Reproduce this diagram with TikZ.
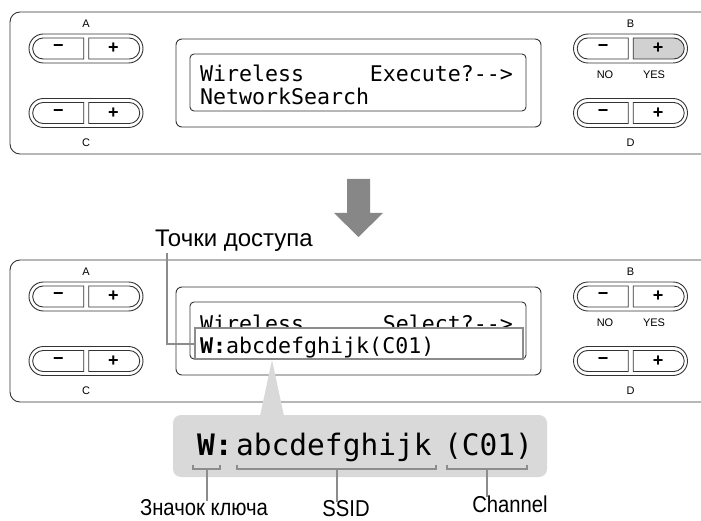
\documentclass[tikz,border=0pt]{standalone}
\usepackage{fontspec}
\setmainfont{Liberation Sans}
\newfontfamily\lcdfam{DejaVu Sans Mono}
\usetikzlibrary{shapes.misc}
\definecolor{lineC}{gray}{0.2}
\definecolor{leadC}{gray}{0.55}
\definecolor{bgC}{gray}{0.85}
\definecolor{arrowC}{gray}{0.53}
\definecolor{plusC}{gray}{0.82}
\newcommand\lcdfont{\lcdfam\fontsize{21.6}{22}\selectfont}
\newcommand\biglcdfont{\lcdfam\fontsize{29.5}{30}\selectfont}
\newcommand\lblfont{\fontsize{23}{23}\selectfont}
\newcommand\calloutfont{\fontsize{24}{24}\selectfont}
\newcommand\smallfont{\fontsize{11}{11}\selectfont}
\newcommand\pmfont{\fontsize{18}{18}\selectfont\bfseries}
\newcommand\mypill[4]{%
  \node[pillout] (#1o) at (#2,#3) {};
  \node[segL] (#1m) at (#2-27.5,#3) {−};
  \node[segR, fill=#4] (#1p) at (#2+27.5,#3) {+};
}
\begin{document}
\begin{tikzpicture}[x=1pt,y=-1pt,
  outl/.style={draw=lineC, line width=0.9pt},
  panel/.style={outl, rounded corners=10pt},
  lcdframe/.style={outl, rounded corners=6pt},
  lcdinner/.style={outl, rounded corners=4pt},
  pillout/.style={outl, rounded rectangle, minimum width=114pt, minimum height=29pt, inner sep=0pt},
  segL/.style={outl, rounded rectangle, rounded rectangle right arc=none, minimum width=51pt, minimum height=21pt, inner sep=0pt, font=\pmfont, fill=white},
  segR/.style={outl, rounded rectangle, rounded rectangle left arc=none, minimum width=51pt, minimum height=21pt, inner sep=0pt, font=\pmfont},
  small/.style={font=\smallfont, inner sep=0pt},
  lcdtxt/.style={font=\lcdfont, inner sep=0pt, anchor=base west},
  bigtxt/.style={font=\biglcdfont, inner sep=0pt, anchor=base west},
  lbl/.style={font=\lblfont, inner sep=0pt, anchor=base},
  leader/.style={draw=leadC, line width=2pt},
  brk/.style={draw=leadC, line width=2pt},
  hlbox/.style={draw=leadC, line width=2pt, fill=white, minimum width=328pt, minimum height=31pt, inner sep=0pt}
]
\useasboundingbox (0,0) rectangle (701,521);
% ---------- top panel ----------
\draw[panel] (702,12) -- (10,12) -- (10,154) -- (702,154);
\mypill{A}{86}{48.5}{white}
\mypill{C}{86}{113}{white}
\mypill{B}{630.5}{48.5}{plusC}
\mypill{D}{630.5}{113}{white}
\node[small] (lA) at (86,24) {A};
\node[small] (lC) at (86,143) {C};
\node[small] (lB) at (630.5,24) {B};
\node[small] (lD) at (630.5,143) {D};
\node[small] (lNO) at (605,75) {NO};
\node[small] (lYES) at (654,75) {YES};
\draw[lcdframe] (176,39) rectangle (541,127);
\draw[lcdinner] (190,54) rectangle (526,111);
\node[lcdtxt] (t1a) at (200,82) {Wireless};
\node[lcdtxt, anchor=base east] (t1b) at (513,82) {Execute?-{}-{}>};
\node[lcdtxt] (t2) at (200,105) {NetworkSearch};
% ---------- arrow ----------
\fill[arrowC] (347,179) -- (370,179) -- (370,213) -- (383,213) -- (358.5,237) -- (334,213) -- (347,213) -- cycle;
% ---------- bottom panel ----------
\draw[panel] (702,260) -- (10,260) -- (10,402) -- (702,402);
\mypill{A2}{86}{296.5}{white}
\mypill{C2}{86}{361}{white}
\mypill{B2}{630.5}{296.5}{white}
\mypill{D2}{630.5}{361}{white}
\node[small] (lA2) at (86,272) {A};
\node[small] (lC2) at (86,391) {C};
\node[small] (lB2) at (630.5,272) {B};
\node[small] (lD2) at (630.5,391) {D};
\node[small] (lNO2) at (605,323) {NO};
\node[small] (lYES2) at (654,323) {YES};
\draw[lcdframe] (176,287) rectangle (541,375);
\draw[lcdinner] (190,302) rectangle (526,359);
\node[lcdtxt] (u1a) at (200,331) {Wireless};
\node[lcdtxt, anchor=base east] (u1b) at (513,331) {Select?-{}-{}>};
\node[hlbox] (hbox) at (359,343.5) {};
\node[lcdtxt] (u2) at (200,353) {{\bfseries W:}abcdefghijk(C01)};
% callout
\node[font=\calloutfont, inner sep=0pt, anchor=base west] (tochki) at (155,247) {Точки доступа};
\draw[leader] ([xshift=12pt,yshift=-1pt]tochki.south west) |- (hbox.west);
% ---------- enlarged ----------
\fill[bgC, rounded corners=8pt] (173,415) rectangle (547,477);
\fill[bgC] (260,416) -- (284,416) -- (272,360) -- cycle;
\node[bigtxt] (ekey) at (197,455) {\bfseries W:};
\node[bigtxt] (essid) at (236,455) {abcdefghijk};
\node[bigtxt] (ech) at (444,455) {(C01)};
\coordinate (k1) at (193,465); \coordinate (k2) at (220,465);
\coordinate (s1) at (237,465); \coordinate (s2) at (436,465);
\coordinate (c1) at (447,465); \coordinate (c2) at (527,465);
\draw[brk] (k1) -- ++(0,4) -| (k2);
\draw[brk] (s1) -- ++(0,4) -| (s2);
\draw[brk] (c1) -- ++(0,4) -| (c2);
\node[lbl] (lkey) at (204,515) {\scalebox{0.88}[1]{Значок ключа}};
\node[lbl] (lssid) at (346,516) {\scalebox{0.88}[1]{SSID}};
\node[lbl] (lch) at (510,512) {\scalebox{0.88}[1]{Channel}};
\draw[brk] (207,469) -- ([yshift=-2pt]lkey.north -| 207,0);
\draw[brk] (336.5,469) -- ([yshift=-2pt]lssid.north -| 336.5,0);
\draw[brk] (487,469) -- ([yshift=-2pt]lch.north -| 487,0);
\end{tikzpicture}
\end{document}
